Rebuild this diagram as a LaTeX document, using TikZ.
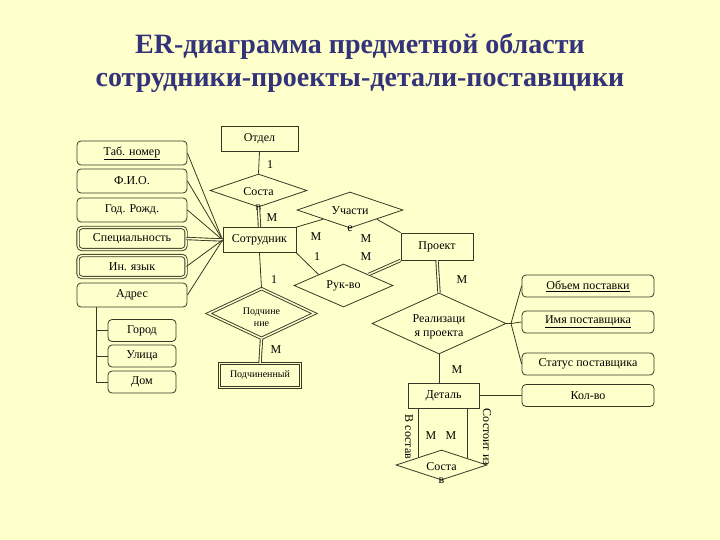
\documentclass[tikz,border=0pt]{standalone}
\usepackage{fontspec}
\setmainfont{Liberation Serif}
\usetikzlibrary{shapes.geometric, positioning}

\definecolor{bg}{RGB}{255,255,204}
\definecolor{ink}{RGB}{58,56,36}
\definecolor{titleblue}{RGB}{51,51,122}

\begin{document}
\begin{tikzpicture}[
  x=1pt, y=-1pt,
  color=ink, line width=0.8pt,
  txt/.style={text=black, font=\fontsize{12}{14}\selectfont},
  ent/.style={txt, draw, fill=bg, inner sep=1pt},
  attr/.style={ent, rounded corners=4pt},
  rel/.style={draw, fill=bg, diamond, inner sep=0pt},
  card/.style={txt, inner sep=0pt},
  dbl/.style={draw=ink, double=bg, line width=0.9pt, double distance=1.5pt},
  weakent/.style={draw=ink, double=bg, double distance=1.5pt, fill=bg, text=black, inner sep=1pt},
]
  % Background
  \fill[bg] (0,0) rectangle (720,540);
  \useasboundingbox (0,0) rectangle (720,540);

  % Title
  \node[text=titleblue, font=\fontsize{28}{33}\selectfont\bfseries, align=center] (title) at (360,63)
    {ER-диаграмма предметной области\\сотрудники-проекты-детали-поставщики};

  % Entities
  \node[ent, minimum width=77pt, minimum height=25pt] (dept)   at (259.5,138.5) {Отдел};
  \node[ent, minimum width=73pt, minimum height=25pt] (emp)    at (259.5,240)   {Сотрудник};
  \node[ent, minimum width=72pt, minimum height=27pt] (proj)   at (437,246.5)   {Проект};
  \node[ent, minimum width=71pt, minimum height=25pt] (det)    at (443.5,395.5) {Деталь};
  \node[weakent, minimum width=81pt, minimum height=24pt, font=\fontsize{10}{12}\selectfont] (subord) at (260,375.5) {Подчиненный};

  % Relationships
  \node[rel, minimum width=97pt,  minimum height=33pt] (sost1) at (258.5,190.5) {};
  \node[rel, minimum width=106pt, minimum height=36pt] (part)  at (350,210)     {};
  \node[rel, minimum width=99pt,  minimum height=43pt] (ruk)   at (343.5,285.5) {};
  \node[rel, dbl, minimum width=106pt, minimum height=50pt] (sub) at (261.5,313.5) {};
  \node[rel, minimum width=134pt, minimum height=61pt] (real)  at (439,323.5)   {};
  \node[rel, minimum width=91pt,  minimum height=30pt] (sost2) at (441.5,465)   {};

  % Relationship texts
  \node[txt] (sost1t) at (258.5,192) {Соста};
  \node[txt] (sost1b) at (sost1.south) {в};
  \node[txt] (partt)  at (350,211) {Участи};
  \node[txt] (partb)  at (part.south) {е};
  \node[txt] (rukt)   at (343.5,286) {Рук-во};
  \node[txt, font=\fontsize{10}{12}\selectfont, align=center] (subt) at (261.5,317) {Подчине\\ние};
  \node[txt, align=center] (realt) at (439,327) {Реализаци\\я проекта};
  \node[txt] (sost2t) at (441.5,467) {Соста};
  \node[txt] (sost2b) at (sost2.south) {в};

  % Employee attributes
  \node[attr, minimum width=110pt, minimum height=24pt] (tab)   at (132,153)   {\underline{Таб. номер}};
  \node[attr, minimum width=110pt, minimum height=24pt] (fio)   at (132,181)   {Ф.И.О.};
  \node[attr, minimum width=110pt, minimum height=24pt] (god)   at (132,210)   {Год. Рожд.};
  \node[attr, dbl, minimum width=108pt, minimum height=22pt] (spec) at (132,238.5) {Специальность};
  \node[attr, dbl, minimum width=108pt, minimum height=22pt] (lang) at (132,266.5) {Ин. язык};
  \node[attr, minimum width=110pt, minimum height=24pt] (addr)  at (132,295)   {Адрес};

  % Address parts
  \node[attr, minimum width=68pt, minimum height=22pt] (city)   at (142,330.5) {Город};
  \node[attr, minimum width=68pt, minimum height=22pt] (street) at (142,356)   {Улица};
  \node[attr, minimum width=68pt, minimum height=22pt] (house)  at (142,382)   {Дом};

  % Supply attributes
  \node[attr, minimum width=132pt, minimum height=22pt] (vol)    at (588,286)   {\underline{Объем поставки}};
  \node[attr, minimum width=132pt, minimum height=22pt] (sname)  at (588,322)   {\underline{Имя поставщика}};
  \node[attr, minimum width=132pt, minimum height=22pt] (status) at (588,364)   {Статус поставщика};
  \node[attr, minimum width=132pt, minimum height=22pt] (qty)    at (588,395.5) {Кол-во};

  % Attribute lines
  \draw (tab.east)  -- (emp.west);
  \draw (fio.east)  -- (emp.west);
  \draw (god.east)  -- (emp.west);
  \draw[dbl] (spec.east) -- (emp.west);
  \draw (lang.east) -- (emp.west);
  \draw (addr.east) -- (emp.west);

  \coordinate (trunk) at ([xshift=20pt]addr.south west);
  \draw (trunk) |- (house.west);
  \draw (trunk |- city.west) -- (city.west);
  \draw (trunk |- street.west) -- (street.west);

  \coordinate (fork) at (511,323.5);
  \draw (real.east) -- (fork);
  \draw (fork) -- (vol.west);
  \draw (fork) -- (sname.west);
  \draw (fork) -- (status.west);
  \draw (det.east) -- (qty.west);

  % Relationship lines
  \draw (dept.south) -- (sost1.north);
  \draw[dbl] (sost1.south) -- (emp.north);
  \draw (emp.north east) -- (part.south west);
  \draw (part.south east) -- (proj.north west);
  \draw (emp.south east) -- (ruk.north west);
  \draw[dbl] (ruk.north east) -- (proj.south west);
  \draw (emp.south) -- (sub.north);
  \draw[dbl] (sub.south) -- (subord.north);
  \draw[dbl] (proj.south) -- (real.north);
  \draw (real.south) -- (real.south |- det.north);
  \draw (sost2.162) -- (sost2.162 |- det.south);
  \draw (sost2.15) -- (sost2.15 |- det.south);

  % Cardinalities
  \node[card] (k1)  at (270,165) {1};
  \node[card] (k2)  at (272,218) {M};
  \node[card] (k3)  at (316,237) {M};
  \node[card] (k4)  at (317,257) {1};
  \node[card] (k5)  at (366,239) {M};
  \node[card] (k6)  at (366,257) {M};
  \node[card] (k7)  at (274,280) {1};
  \node[card] (k8)  at (276,350) {M};
  \node[card] (k9)  at (462,280) {M};
  \node[card] (k10) at (457,370) {M};
  \node[card] (k11) at (431,436) {M};
  \node[card] (k12) at (451,436) {M};
  \node[card, rotate=-90] (inpart) at (409,437) {В состав};
  \node[card, rotate=-90] (consist) at (487,437) {Состоит из};
\end{tikzpicture}
\end{document}
